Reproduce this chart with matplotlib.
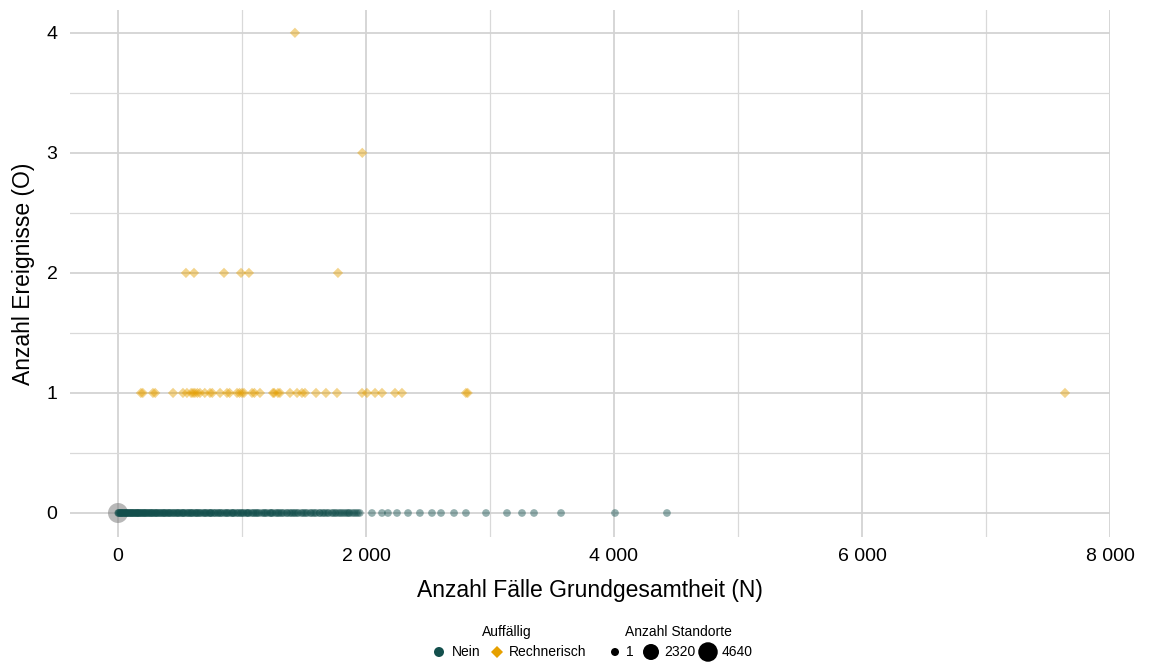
import matplotlib
matplotlib.use("Agg")
import matplotlib.pyplot as plt
import numpy as np

plt.rcParams['font.family'] = ['Liberation Sans', 'DejaVu Sans']

# --- data ---
# "Nein" sites: O = 0
nein_N = [2, 10, 18, 25, 33, 41, 50, 58, 66, 75, 84, 92, 101, 110, 119, 128, 137, 146, 155, 165,
          175, 185, 195, 205, 216, 227, 238, 249, 260, 272, 284, 296, 308, 320, 333, 346, 359,
          372, 385, 398, 412, 426, 440, 454, 468, 482, 497, 512, 527, 542, 557, 572, 588, 604,
          620, 636, 652, 668, 685, 702, 719, 736, 753, 770, 788, 806, 824, 842, 860, 879, 898,
          917, 936, 955, 975, 995, 1015, 1035, 1055, 1076, 1097, 1118, 1139, 1160, 1182, 1204,
          1226, 1248, 1270, 1292, 1315, 1338, 1361, 1384, 1407, 1430, 1454, 1478, 1502, 1526,
          1550, 1575, 1600, 1625, 1650, 1675, 1700, 1725, 1750, 1778, 1805, 1835, 1860, 1890,
          1920, 1950, 2048, 2129, 2177, 2250, 2339, 2435, 2532, 2605, 2710, 2806, 2968, 3137,
          3258, 3355, 3573, 4008, 4427,
          30, 70, 115, 160, 210, 265, 315, 365, 420, 475, 530, 585, 640, 695, 750, 810, 870,
          930, 990, 1050, 1110, 1175, 1240, 1300, 1365, 1420, 1490, 1560, 1630, 1690, 1760,
          1850, 1935,
          6, 22, 45, 62, 88, 105, 132, 150, 170, 190, 222, 244, 278, 302, 340, 378, 405, 448,
          490, 520, 565, 598, 628, 660, 710, 742, 780, 830, 885, 922, 965, 1008, 1042, 1088,
          1128, 1192, 1232, 1280, 1325, 1395, 1445, 1515, 1588, 1660, 1735, 1792, 1820, 1870,
          1905]
nein_O = [0] * len(nein_N)

# "Rechnerisch" sites
rech_N = [185, 200, 282, 300, 444, 524, 556, 590, 605, 620, 640, 661, 700, 742, 760, 823, 879,
          900, 960, 980, 1000, 1016, 1081, 1100, 1145, 1250, 1260, 1290, 1306, 1387, 1444, 1484,
          1508, 1597, 1677, 1766, 1968, 2008, 2073, 2129, 2234, 2290, 2806, 2820, 7637,
          548, 613, 855, 992, 1056, 1774,
          1970,
          1427]
rech_O = [1] * 45 + [2] * 6 + [3] + [4]

# aggregated marker: many sites with N = 0, O = 0
agg_N = [0]
agg_O = [0]
agg_count = [4640]

size_breaks = [1, 2320, 4640]
x_ticks = [0, 2000, 4000, 6000, 8000]
x_labels = ["0", "2 000", "4 000", "6 000", "8 000"]
y_ticks = [0, 1, 2, 3, 4]

TEAL = "#134f4c"
ORANGE = "#e6a000"
W, H = 1149, 666


def size_pt2(n):
    d_px = 7.5 + 12.5 * np.sqrt(np.asarray(n, dtype=float) / 4640.0)
    d_pt = d_px * 72 / 100
    return d_pt ** 2


fig = plt.figure(figsize=(11.49, 6.66), dpi=100)
ax = fig.add_axes([70 / W, (H - 537) / H, (1110 - 70) / W, (537 - 10) / H])

ax.scatter(agg_N, agg_O, s=size_pt2(agg_count), color="#7f7f7f", alpha=0.55,
           edgecolors="none", zorder=3)
ax.scatter(nein_N, nein_O, s=size_pt2([1] * len(nein_N)), color=TEAL, alpha=0.45,
           edgecolors="none", zorder=4)
ax.scatter(rech_N, rech_O, s=size_pt2([1] * len(rech_N)) * 0.9, color=ORANGE, alpha=0.45,
           marker="D", edgecolors="none", zorder=4)

ax.set_xlim(-387, 8000)
ax.set_ylim(-0.2, 4.19)
ax.set_xticks(x_ticks)
ax.set_xticklabels(x_labels)
ax.set_yticks(y_ticks)
ax.set_xticks([1000, 3000, 5000, 7000], minor=True)
ax.set_yticks([0.5, 1.5, 2.5, 3.5], minor=True)
ax.grid(True, which="major", color="#d3d3d3", linewidth=1.3, zorder=0)
ax.grid(True, which="minor", color="#d9d9d9", linewidth=0.9, zorder=0)
ax.set_axisbelow(True)
for sp in ax.spines.values():
    sp.set_visible(False)
ax.tick_params(which="both", length=0, labelsize=14, colors="black")
ax.tick_params(axis="x", pad=8)
ax.tick_params(axis="y", pad=9)
ax.set_xlabel("Anzahl Fälle Grundgesamtheit (N)", fontsize=16.5, labelpad=10)
ax.set_ylabel("Anzahl Ereignisse (O)", fontsize=16.5, labelpad=8)

# legends drawn in pixel coordinates on an overlay
lax = fig.add_axes([0, 0, 1, 1], facecolor="none")
lax.set_xlim(0, W)
lax.set_ylim(H, 0)
lax.axis("off")
fs = 10
lax.text(507, 632, "Auffällig", fontsize=fs, ha="center", va="center")
lax.scatter([439], [652], s=(10 * 0.72) ** 2, color=TEAL, edgecolors="none")
lax.text(452, 652, "Nein", fontsize=fs, ha="left", va="center")
lax.scatter([497], [652], s=(8.5 * 0.72) ** 2, color=ORANGE, marker="D", edgecolors="none")
lax.text(509, 652, "Rechnerisch", fontsize=fs, ha="left", va="center")

lax.text(678, 632, "Anzahl Standorte", fontsize=fs, ha="center", va="center")
leg_x = [615, 651, 708]
lab_x = [626, 664, 722]
leg_d = [8, 16, 19.5]
for b, cx, tx, d in zip(size_breaks, leg_x, lab_x, leg_d):
    lax.scatter([cx], [652], s=(d * 0.72) ** 2, color="black", edgecolors="none")
    lax.text(tx, 652, str(b), fontsize=fs, ha="left", va="center")

fig.savefig("out.png", dpi=100)
